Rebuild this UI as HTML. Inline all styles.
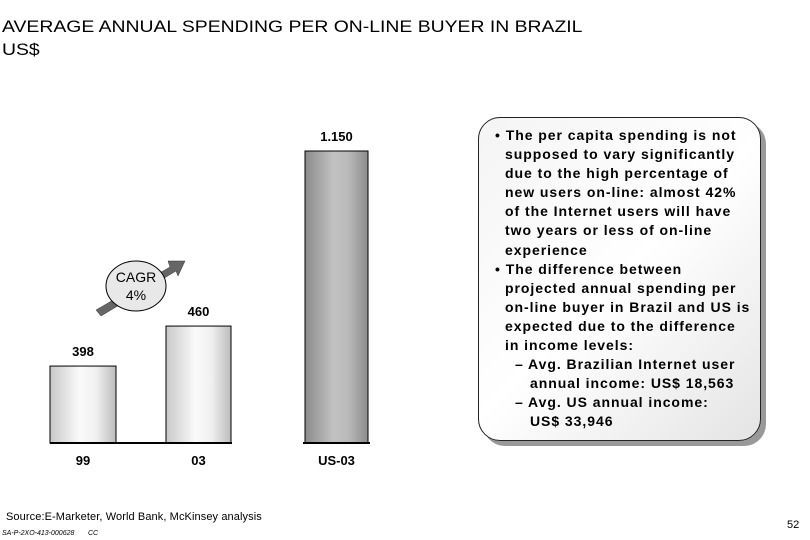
<!DOCTYPE html>
<html><head><meta charset="utf-8"><style>
body{margin:0;background:#fff;font-family:"Liberation Sans",Arial,sans-serif;}
#root{position:relative;width:810px;height:540px;overflow:hidden;background:#fff}
.t{position:absolute;white-space:nowrap;color:#000}
#box{position:absolute;left:478px;top:117px;width:281px;height:322px;border:1.5px solid #222;border-radius:22px;background:linear-gradient(135deg,#f4f4f4 0%,#fff 50%,#e4e4e4 100%);box-shadow:5px 5px 0 #999;}
#boxtext{position:absolute;left:492px;top:126px;font-weight:bold;font-size:14px;line-height:19.1px;letter-spacing:0.95px;color:#000;white-space:nowrap}
#boxtext .b{padding-left:13px;text-indent:-10px}
#boxtext .s{padding-left:38px;text-indent:-15px}
</style></head><body>
<div id="root">
<div class="t" style="left:2px;top:17px;font-size:17px;transform:scaleX(1.14);transform-origin:0 0">AVERAGE ANNUAL SPENDING PER ON-LINE BUYER IN BRAZIL</div>
<div class="t" style="left:2px;top:40px;font-size:17px;transform:scaleX(1.14);transform-origin:0 0">US$</div>
<svg id="chart" width="460" height="480" style="position:absolute;left:0;top:0">
<defs>
<linearGradient id="g1" x1="0" x2="1"><stop offset="0" stop-color="#c8c8c8"/><stop offset="0.45" stop-color="#fafafa"/><stop offset="0.7" stop-color="#f0f0f0"/><stop offset="1" stop-color="#bcbcbc"/></linearGradient>
<linearGradient id="g2" x1="0" x2="1"><stop offset="0" stop-color="#8a8a8a"/><stop offset="0.45" stop-color="#c2c2c2"/><stop offset="0.7" stop-color="#b8b8b8"/><stop offset="1" stop-color="#8c8c8c"/></linearGradient>
</defs>
</svg>
<div id="box"></div>
<div id="boxtext">
<div class="b">• The per capita spending is not<br>supposed to vary significantly<br>due to the high percentage of<br>new users on-line: almost 42%<br>of the Internet users will have<br>two years or less of on-line<br>experience</div>
<div class="b">• The difference between<br>projected annual spending per<br>on-line buyer in Brazil and US is<br>expected due to the difference<br>in income levels:</div>
<div class="s">– Avg. Brazilian Internet user<br>annual income: US$ 18,563</div>
<div class="s">– Avg. US annual income:<br>US$ 33,946</div>
</div>
<div class="t" style="left:6px;top:511px;font-size:11px;letter-spacing:0.1px">Source:E-Marketer, World Bank, McKinsey analysis</div>
<div class="t" style="left:2px;top:530px;font-size:7px;font-style:italic">SA-P-2XO-413-000628 &nbsp;&nbsp;&nbsp;&nbsp;&nbsp;&nbsp;CC</div>
<div class="t" style="left:787px;top:519px;font-size:11px">52</div>
</div>
<script>
const categories=["99","03","US-03"];
const values=[398,460,1150];
const valueLabels=["398","460","1.150"];
const groups=["brazil","brazil","us"];
const svg=document.getElementById('chart');
const NS='http://www.w3.org/2000/svg';
const base=443;
// Brazil panel uses a truncated axis, US panel its own linear axis
function yBrazil(v){return base-(v-278.7)*0.645;}
function yUS(v){return base-v*(292/1150);}
const xs=[[50,116],[166,231],[305,368]];
function mk(tag,attrs){const e=document.createElementNS(NS,tag);for(const k in attrs)e.setAttribute(k,attrs[k]);svg.appendChild(e);return e;}
categories.forEach((c,i)=>{
  const y=groups[i]==='us'?yUS(values[i]):yBrazil(values[i]);
  const [x0,x1]=xs[i];
  const r=mk('rect',{x:x0,y:y,width:x1-x0,height:base-y,fill:groups[i]==='us'?'url(#g2)':'url(#g1)',stroke:'#000','stroke-width':1});
  
  
  const l=mk('text',{x:(x0+x1)/2,y:y-10,'text-anchor':'middle','font-size':13,'font-weight':'bold','font-family':'Liberation Sans, sans-serif'});
  l.textContent=valueLabels[i];
  
  
  const t=mk('text',{x:(x0+x1)/2,y:base+22,'text-anchor':'middle','font-size':13,'font-weight':'bold','font-family':'Liberation Sans, sans-serif'});
  t.textContent=c;
  
  
});
const a1=mk('line',{x1:50,y1:443,x2:232,y2:443,stroke:'#000','stroke-width':2});


const a2=mk('line',{x1:303,y1:443,x2:370,y2:443,stroke:'#000','stroke-width':2});


const ar=mk('polygon',{points:'96,310 170,267 168,261 185,261 178,276 176,271 101,316',fill:'#666',stroke:'#333','stroke-width':0.5});


const el=mk('ellipse',{cx:136,cy:286,rx:30,ry:25,fill:'#e8e8e8',stroke:'#000','stroke-width':1});


const c1=mk('text',{x:136,y:282,'text-anchor':'middle','font-size':14,'font-family':'Liberation Sans, sans-serif'});
c1.textContent='CAGR';


const c2=mk('text',{x:136,y:300,'text-anchor':'middle','font-size':14,'font-family':'Liberation Sans, sans-serif'});
c2.textContent='4%';


</script>
</body></html>
